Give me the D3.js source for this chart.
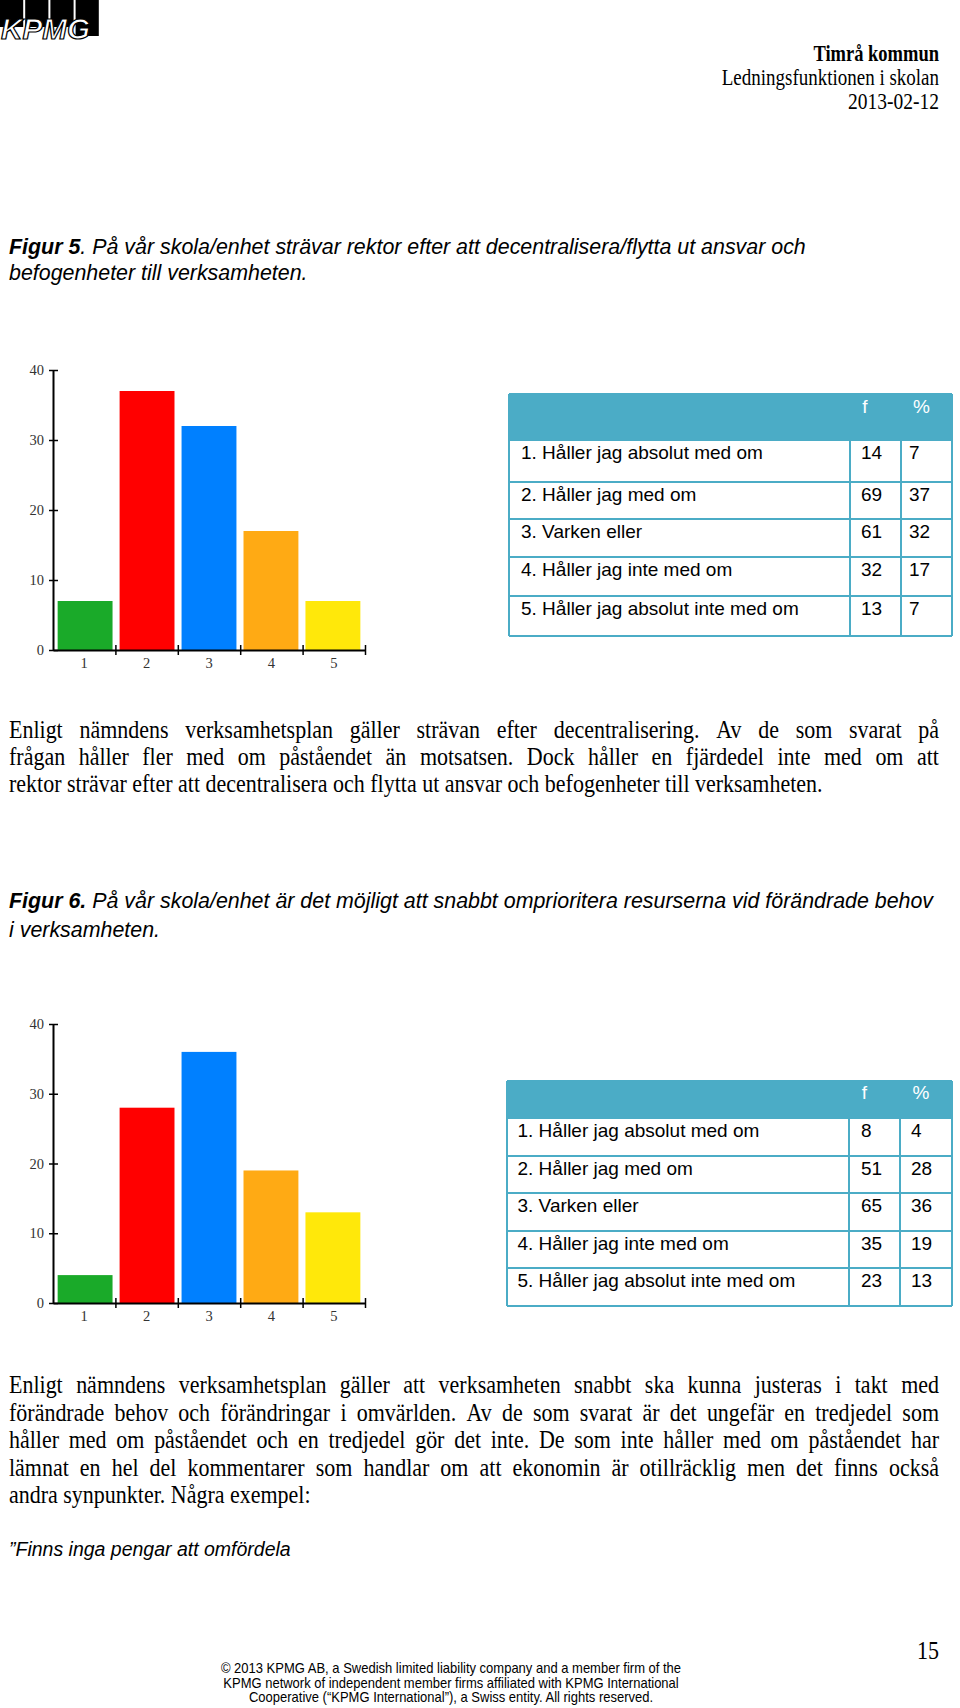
<!DOCTYPE html>
<html><head><meta charset="utf-8">
<script src="https://cdnjs.cloudflare.com/ajax/libs/d3/7.8.5/d3.min.js"></script>
<style>html,body{margin:0;padding:0;background:#fff;} svg{display:block}</style>
</head><body>
<svg id="page" width="960" height="1708"></svg>
<script>
// ---------- DATA ----------
const categories = ["1", "2", "3", "4", "5"];
const answerLabels = ["1. Håller jag absolut med om", "2. Håller jag med om", "3. Varken eller", "4. Håller jag inte med om", "5. Håller jag absolut inte med om"];
const fig5Freq = [14, 69, 61, 32, 13];
const fig5Pct = [7, 37, 32, 17, 7];
const fig6Freq = [8, 51, 65, 35, 23];
const fig6Pct = [4, 28, 36, 19, 13];
const yTicks = [0, 10, 20, 30, 40];
const barColors = ["#1aaa29", "#ff0000", "#0080ff", "#ffaa14", "#ffe80a"];
const tableHeader = ["f", "%"];

const headerLines = ["Timrå kommun", "Ledningsfunktionen i skolan", "2013-02-12"];
const fig5Caption = [[{t: "Figur 5", w: "bold"}, {t: ". På vår skola/enhet strävar rektor efter att decentralisera/flytta ut ansvar och"}], [{t: "befogenheter till verksamheten."}]];
const fig6Caption = [[{t: "Figur 6.", w: "bold"}, {t: " På vår skola/enhet är det möjligt att snabbt omprioritera resurserna vid förändrade behov"}], [{t: "i verksamheten."}]];
const para1 = [
  "Enligt nämndens verksamhetsplan gäller strävan efter decentralisering. Av de som svarat på",
  "frågan håller fler med om påståendet än motsatsen. Dock håller en fjärdedel inte med om att",
  "rektor strävar efter att decentralisera och flytta ut ansvar och befogenheter till verksamheten."
];
const para2 = [
  "Enligt nämndens verksamhetsplan gäller att verksamheten snabbt ska kunna justeras i takt med",
  "förändrade behov och förändringar i omvärlden. Av de som svarat är det ungefär en tredjedel som",
  "håller med om påståendet och en tredjedel gör det inte.  De som inte håller med om påståendet har",
  "lämnat en hel del kommentarer som handlar om att ekonomin är otillräcklig men det finns också",
  "andra synpunkter. Några exempel:"
];
const quoteText = "”Finns inga pengar att omfördela";
const footerLines = [
  "© 2013 KPMG AB, a Swedish limited liability company and a member firm of the",
  "KPMG network of independent member firms affiliated with KPMG International",
  "Cooperative (“KPMG International”), a Swiss entity. All rights reserved."
];
const pageNumber = "15";

// ---------- HELPERS ----------
const svg = d3.select("#page");
const SERIF = "'Liberation Serif','Times New Roman',serif";
const SANS = "'Liberation Sans',Arial,sans-serif";
const VS = 1.15; // vertical stretch of the document text

function textLine(g, x, y, parts, o) {
  const t = g.append("text")
    .attr("font-family", o.family).attr("font-size", o.size)
    .attr("fill", o.fill || "#000").attr("text-anchor", o.anchor || "start")
    .attr("font-style", o.style || null).attr("font-weight", o.weight || null)
    .style("white-space", "pre");
  const ps = typeof parts === "string" ? [{t: parts}] : parts;
  ps.forEach(p => t.append("tspan").text(p.t).attr("font-weight", p.w || null));
  let sx = 1;
  if (o.width) sx = o.width / t.node().getComputedTextLength();
  t.attr("transform", `translate(${x},${y}) scale(${sx},${o.vs || 1})`);
  return t;
}

function justifyLine(g, x, y, str, width, o) {
  const words = str.split(/\s+/).filter(Boolean);
  const t = g.append("text")
    .attr("font-family", o.family).attr("font-size", o.size).attr("fill", "#000")
    .attr("transform", `translate(${x},${y}) scale(1,${o.vs || 1})`);
  const spans = words.map(w => t.append("tspan").text(w));
  const widths = spans.map(s => s.node().getComputedTextLength());
  const gap = (width - d3.sum(widths)) / (words.length - 1);
  let cx = 0;
  spans.forEach((s, i) => { s.attr("x", cx); cx += widths[i] + gap; });
}

function paragraph(g, lines, x, y0, lh, width, o) {
  lines.forEach((l, i) => {
    const y = y0 + i * lh;
    if (i < lines.length - 1) justifyLine(g, x, y, l, width, o);
    else textLine(g, x, y, l, o);
  });
}

// ---------- LOGO ----------
const logo = svg.append("g");
[0, 1, 2, 3].forEach(i => {
  logo.append("rect").attr("x", i * 25.2).attr("y", 0).attr("width", 23.2)
    .attr("height", i === 3 ? 36 : 27).attr("fill", "#000");
});
logo.append("text").attr("x", 1).attr("y", 39).attr("font-family", SANS)
  .attr("font-size", 29).attr("font-style", "italic").attr("font-weight", "bold")
  .attr("fill", "#fff").attr("stroke", "#000").attr("stroke-width", 1.2)
  .attr("textLength", 89).attr("lengthAdjust", "spacingAndGlyphs").text("KPMG");

// ---------- PAGE HEADER ----------
const hdr = svg.append("g");
textLine(hdr, 939, 61, [{t: headerLines[0], w: "bold"}], {family: SERIF, size: 18.5, anchor: "end", vs: 1.2});
textLine(hdr, 939, 85, headerLines[1], {family: SERIF, size: 19, anchor: "end", vs: 1.2});
textLine(hdr, 939, 109, headerLines[2], {family: SERIF, size: 19.5, anchor: "end", vs: 1.2});

// ---------- CAPTIONS / TEXT ----------
const txt = svg.append("g");
fig5Caption.forEach((l, i) => textLine(txt, 9, 254 + i * 26, l, {family: SANS, size: 21.4, style: "italic", vs: 1.05}));
fig6Caption.forEach((l, i) => textLine(txt, 9, 908 + i * 28.5, l, {family: SANS, size: 21.4, style: "italic", vs: 1.05}));
paragraph(txt, para1, 9, 738, 27, 930, {family: SERIF, size: 22, vs: VS});
paragraph(txt, para2, 9, 1393, 27.5, 930, {family: SERIF, size: 22, vs: VS});
textLine(txt, 9, 1556, quoteText, {family: SANS, size: 19.5, style: "italic", vs: 1.05});
footerLines.forEach((l, i) => textLine(txt, 451, 1673 + i * 14.5, l, {family: SANS, size: 13, anchor: "middle", vs: 1.1}));
textLine(txt, 939, 1659, pageNumber, {family: SERIF, size: 22, anchor: "end", vs: VS});

// ---------- CHARTS ----------
function drawChart(values, yTop, yBottom) {
  const g = svg.append("g");
  const y = d3.scaleLinear().domain([0, 40]).range([yBottom, yTop]);
  const xBars = d3.scaleBand().domain(categories).range([53, 365]).paddingInner(0.114).paddingOuter(0.075);
  const xEdges = d3.scaleLinear().domain([0, categories.length]).range([53, 365]);
  const xLabels = d3.scaleBand().domain(categories).range([53, 365]).padding(0);

  g.selectAll("rect.bar").data(values).join("rect").attr("class", "bar")
    .attr("x", (d, i) => xBars(categories[i])).attr("width", xBars.bandwidth())
    .attr("y", d => y(d)).attr("height", d => y(0) - y(d))
    .attr("fill", (d, i) => barColors[i]);

  // y axis
  const ya = g.append("g").attr("transform", "translate(53,0)")
    .call(d3.axisLeft(y).tickValues(yTicks).tickSize(4).tickSizeOuter(0).tickPadding(5));
  ya.select(".domain").attr("stroke", "#000").attr("stroke-width", 2);
  ya.selectAll(".tick line").attr("x1", -4).attr("x2", 5).attr("stroke", "#000").attr("stroke-width", 1.5);
  ya.selectAll(".tick text").attr("font-family", SERIF).attr("font-size", 14.5).attr("fill", "#333");

  // x axis (edge ticks)
  const xa = g.append("g").attr("transform", `translate(0,${yBottom})`)
    .call(d3.axisBottom(xEdges).tickValues(d3.range(1, categories.length + 1)).tickFormat("").tickSizeOuter(0));
  xa.select(".domain").attr("stroke", "#000").attr("stroke-width", 2);
  xa.selectAll(".tick line").attr("y1", -5).attr("y2", 5).attr("stroke", "#000").attr("stroke-width", 1.5);

  // x labels
  const xl = g.append("g").attr("transform", `translate(0,${yBottom})`)
    .call(d3.axisBottom(xLabels).tickSize(0).tickPadding(8));
  xl.select(".domain").remove();
  xl.selectAll(".tick text").attr("font-family", SERIF).attr("font-size", 14.5).attr("fill", "#333");
}
drawChart(fig5Pct, 370, 650);
drawChart(fig6Pct, 1024, 1303);

// ---------- TABLES ----------
const TEAL = "#4bacc6";
function drawTable(freq, pct, L) {
  const g = svg.append("g");
  const edges = L.rows; // [top, headerBottom, row1Bottom ... row5Bottom]
  g.append("rect").attr("x", L.x0).attr("y", edges[0]).attr("width", L.x1 - L.x0)
    .attr("height", edges[1] - edges[0]).attr("fill", TEAL);
  const rows = answerLabels.map((a, i) => ({label: a, f: freq[i], p: pct[i], top: edges[i + 1], bottom: edges[i + 2]}));
  g.selectAll("line.h").data(edges.slice(1)).join("line").attr("class", "h")
    .attr("x1", L.x0).attr("x2", L.x1).attr("y1", d => d).attr("y2", d => d)
    .attr("stroke", TEAL).attr("stroke-width", 2);
  [L.x0, L.c1, L.c2, L.x1].forEach((cx, i) => {
    g.append("line").attr("x1", cx).attr("x2", cx)
      .attr("y1", (i === 0 || i === 3) ? edges[0] : edges[1]).attr("y2", edges[edges.length - 1])
      .attr("stroke", TEAL).attr("stroke-width", 2);
  });
  g.append("line").attr("x1", L.x0).attr("x2", L.x1).attr("y1", edges[0]).attr("y2", edges[0])
    .attr("stroke", TEAL).attr("stroke-width", 2);
  tableHeader.forEach((h, i) => {
    g.append("text").attr("x", L.hx[i]).attr("y", L.hy).attr("text-anchor", "middle")
      .attr("font-family", SANS).attr("font-size", 19).attr("fill", "#fff").text(h);
  });
  const rg = g.selectAll("g.row").data(rows).join("g").attr("class", "row");
  const base = d => d.top + 19;
  rg.append("text").attr("x", L.tx).attr("y", base).attr("font-family", SANS).attr("font-size", 19).text(d => d.label);
  rg.append("text").attr("x", L.fx).attr("y", base).attr("font-family", SANS).attr("font-size", 19).text(d => d.f);
  rg.append("text").attr("x", L.px).attr("y", base).attr("font-family", SANS).attr("font-size", 19).text(d => d.p);
}
drawTable(fig5Freq, fig5Pct, {x0: 509, x1: 952, c1: 850, c2: 901, rows: [394, 440, 482, 519, 557, 596, 636],
  hx: [865, 921.5], hy: 413, tx: 521, fx: 861, px: 909});
drawTable(fig6Freq, fig6Pct, {x0: 507, x1: 952, c1: 849, c2: 900, rows: [1081, 1118, 1156, 1193, 1231, 1268, 1306],
  hx: [864.5, 921], hy: 1099, tx: 517.5, fx: 861, px: 911});
</script>
</body></html>
